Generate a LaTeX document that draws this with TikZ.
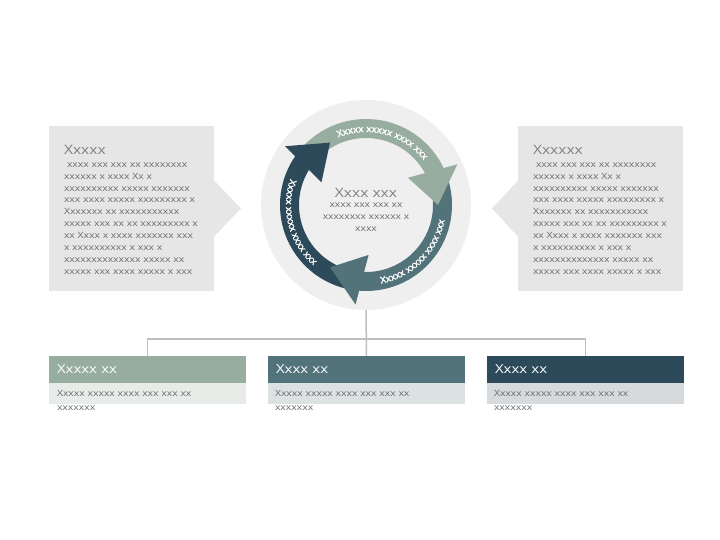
\documentclass[tikz,border=0pt]{standalone}
\usepackage{fontspec}
\setmainfont{Open Sans}[FakeStretch=1.2]
\newfontfamily\arcfont{Open Sans}[FakeBold=2.5, FakeStretch=1.05]
\usetikzlibrary{decorations.text,calc}
\definecolor{cSage}{HTML}{96AD9F}
\definecolor{cTeal}{HTML}{52737A}
\definecolor{cDark}{HTML}{2C4A5A}
\definecolor{cSageL}{HTML}{E8ECE9}
\definecolor{cTealL}{HTML}{DCE1E2}
\definecolor{cDarkL}{HTML}{D6DADD}
\definecolor{cBox}{HTML}{E6E6E6}
\definecolor{cHub}{HTML}{EFEFEF}
\definecolor{cLine}{HTML}{BFBFBF}
\definecolor{cTitle}{HTML}{808080}
\definecolor{cText}{HTML}{6A6A6A}
\tikzset{
  every node/.style={inner sep=0pt, outer sep=0pt},
  sidebox/.style={fill=cBox, minimum width=165pt, minimum height=165pt, anchor=north west},
  sidetitle/.style={anchor=west, font=\fontsize{13}{15}\selectfont, text=cTitle},
  sidebody/.style={anchor=north west, align=left, font=\fontsize{8.7}{11.9}\selectfont, text=cText},
  hdr/.style={anchor=north west, minimum width=197pt, minimum height=27pt, text width=181pt,
              inner xsep=8pt, align=left, text=white, font=\fontsize{12.5}{14}\selectfont},
  subband/.style={anchor=north, minimum width=197pt, minimum height=21pt},
  subtext/.style={anchor=north west, align=left, font=\fontsize{8.7}{14.3}\selectfont, text=cText},
  conn/.style={draw=cLine, line width=1.5pt},
  arctext/.style={decorate, decoration={text along path, text align=center, text color=white,
      text={|\arcfont\fontsize{9.3}{9.3}\selectfont|Xxxxx xxxxx xxxx xxx}}}
}
\begin{document}
\begin{tikzpicture}[x=1pt,y=1pt]
\useasboundingbox (0,0) rectangle (720,-540);
\fill[white] (0,0) rectangle (720,-540);

% side boxes
\node[sidebox] (lbox) at (49,-126) {};
\fill[cBox] ($(lbox.east)+(0,28)$) -- ($(lbox.east)+(27,0)$) -- ($(lbox.east)+(0,-28)$) -- cycle;
\node[sidebox] (rbox) at (518,-126) {};
\fill[cBox] ($(rbox.west)+(0,28)$) -- ($(rbox.west)+(-26,0)$) -- ($(rbox.west)+(0,-28)$) -- cycle;

\node[sidetitle] (ltitle) at (64,-150) {Xxxxx};
\node[sidebody] (lbody) at (64,-162.6) {\hspace*{3pt}xxxx xxx xxx xx xxxxxxxx\\xxxxxx x xxxx Xx x\\xxxxxxxxxx xxxxx xxxxxxx\\xxx xxxx xxxxx xxxxxxxxx x\\Xxxxxxx xx xxxxxxxxxxx\\xxxxx xxx xx xx xxxxxxxxx x\\xx Xxxx x xxxx xxxxxxx xxx\\x xxxxxxxxxx x xxx x\\xxxxxxxxxxxxxx xxxxx xx\\xxxxx xxx xxxx xxxxx x xxx};
\node[sidetitle] (rtitle) at (533,-150) {Xxxxxx};
\node[sidebody] (rbody) at (533,-162.6) {\hspace*{3pt}xxxx xxx xxx xx xxxxxxxx\\xxxxxx x xxxx Xx x\\xxxxxxxxxx xxxxx xxxxxxx\\xxx xxxx xxxxx xxxxxxxxx x\\Xxxxxxx xx xxxxxxxxxxx\\xxxxx xxx xx xx xxxxxxxxx x\\xx Xxxx x xxxx xxxxxxx xxx\\x xxxxxxxxxx x xxx x\\xxxxxxxxxxxxxx xxxxx xx\\xxxxx xxx xxxx xxxxx x xxx};

% hub
\node[circle, fill=cHub, minimum size=210pt] (hub) at (366,-205) {};
\coordinate (C) at (hub.center);

% ring bands
\foreach \t/\c in {0/cSage, -120/cTeal, 120/cDark} {
  \fill[\c] ($(C)+(\t+140:86)$) arc[start angle=\t+140, end angle=\t+25, radius=86]
     -- ($(C)+(\t+25:67)$) arc[start angle=\t+25, end angle=\t+140, radius=67] -- cycle;
}
% heads
\foreach \t/\c in {0/cSage, -120/cTeal, 120/cDark} {
  \fill[\c] ($(C)+(\t:72)$) -- ($(C)+(\t+24:100)$) -- ($(C)+(\t+33:50)$) -- cycle;
}
% arc texts
\path[arctext] ($(C)+(116:73)$) arc[start angle=116, end angle=34, radius=73];
\path[arctext] ($(C)+(-86:80)$) arc[start angle=-86, end angle=-4, radius=80];
\path[arctext] ($(C)+(154:80)$) arc[start angle=154, end angle=236, radius=80];

% hub text
\node[font=\fontsize{13}{15}\selectfont, text=cTitle] (ctitle) at (366,-192.7) {Xxxx xxx};
\node[anchor=north, align=center, font=\fontsize{8.6}{12}\selectfont, text=cText] (cbody) at (366,-202.6) {xxxx xxx xxx xx\\xxxxxxxx xxxxxx x\\xxxx};

% bottom boxes
\node[hdr, fill=cSage] (b1) at (49,-356) {Xxxxx xx};
\node[subband, fill=cSageL] (s1) at (b1.south) {};
\node[subtext] (t1) at ($(s1.north west)+(8,-7.2)$) {Xxxxx xxxxx xxxx xxx xxx xx\\xxxxxxx};
\node[hdr, fill=cTeal] (b2) at (268,-356) {Xxxx xx};
\node[subband, fill=cTealL] (s2) at (b2.south) {};
\node[subtext] (t2) at ($(s2.north west)+(7,-7.2)$) {Xxxxx xxxxx xxxx xxx xxx xx\\xxxxxxx};
\node[hdr, fill=cDark] (b3) at (487,-356) {Xxxx xx};
\node[subband, fill=cDarkL] (s3) at (b3.south) {};
\node[subtext] (t3) at ($(s3.north west)+(7,-7.2)$) {Xxxxx xxxxx xxxx xxx xxx xx\\xxxxxxx};

% connectors
\coordinate (bus) at (366,-339);
\draw[conn] (hub.south) -- (b2.north);
\draw[conn] (b1.north) |- (bus) -| (b3.north);
\end{tikzpicture}
\end{document}
